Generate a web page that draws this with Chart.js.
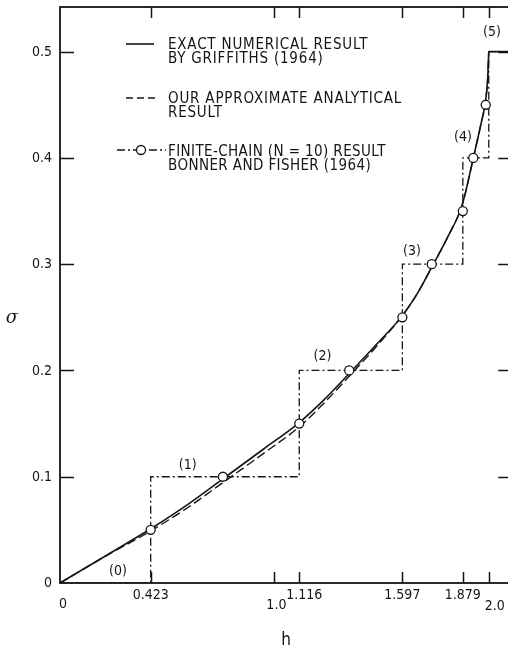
<!DOCTYPE html>
<html>
<head>
<meta charset="utf-8">
<script src="https://cdn.jsdelivr.net/npm/chart.js@4.4.1/dist/chart.umd.min.js"></script>
<style>
  html, body { margin: 0; padding: 0; background: #fff; overflow: hidden; }
  #wrap { width: 516px; height: 651px; }
</style>
</head>
<body>
<div id="wrap"><canvas id="c" width="516" height="651"></canvas></div>
<script>
// ---------------- data ----------------
// exact numerical result (Griffiths 1964)
const exactH = [0, 0.2, 0.423, 0.6, 0.76, 0.95, 1.116, 1.23, 1.349, 1.48, 1.597, 1.67, 1.734, 1.81, 1.876, 1.93, 1.965, 1.985, 1.995, 2.0];
const exactS = [0, 0.024, 0.051, 0.0745, 0.098, 0.1261, 0.151, 0.1721, 0.1971, 0.2253, 0.2516, 0.2735, 0.2972, 0.3261, 0.3558, 0.4017, 0.4332, 0.4532, 0.475, 0.5];
// saturated part of the exact result (h > 2)
const satH = [2.0, 2.1];
const satS = [0.5, 0.5];
// our approximate analytical result
const approxH = [0, 0.2, 0.423, 0.6, 0.76, 0.95, 1.116, 1.23, 1.349, 1.48, 1.597, 1.67, 1.734, 1.81, 1.876, 1.93, 1.965, 1.985, 1.995, 2.0];
const approxS = [0, 0.0238, 0.049, 0.0715, 0.0945, 0.122, 0.147, 0.169, 0.1945, 0.2235, 0.2516, 0.2735, 0.2972, 0.3261, 0.3558, 0.4017, 0.4332, 0.4532, 0.475, 0.5];
// finite chain (N=10) staircase: step starts
const stepH = [0, 0.423, 1.116, 1.597, 1.879, 2.0, 2.1];
const stepS = [0, 0.1, 0.2, 0.3, 0.4, 0.5, 0.5];
// finite chain circles
const chainH = [0.423, 0.760, 1.116, 1.349, 1.597, 1.734, 1.879, 1.928, 1.986];
const chainS = [0.05, 0.1, 0.15, 0.2, 0.25, 0.3, 0.35, 0.4, 0.45];
// ticks
const xTickValues = [0, 0.423, 1.0, 1.116, 1.597, 1.879, 2.0];
const xTickLabels = ['0', '0.423', '1.0', '1.116', '1.597', '1.879', '2.0'];
const yTickValues = [0, 0.1, 0.2, 0.3, 0.4, 0.5];
const yTickLabels = ['0', '0.1', '0.2', '0.3', '0.4', '0.5'];
// step annotations
const stepLabels = ['(0)', '(1)', '(2)', '(3)', '(4)', '(5)'];
const stepLabelH = [0.27, 0.596, 1.224, 1.642, 1.88, 2.015];
const stepLabelS = [0.011, 0.111, 0.213, 0.312, 0.419, 0.518];
// legend texts
const legendTexts = [
  ['EXACT NUMERICAL RESULT', 'BY GRIFFITHS (1964)'],
  ['OUR APPROXIMATE ANALYTICAL', 'RESULT'],
  ['FINITE-CHAIN (N = 10) RESULT', 'BONNER AND FISHER (1964)']
];
const xTitle = 'h';
const yTitle = 'σ';

// ---------------- style ----------------
const INK = '#151515';
const FONT = "'DejaVu Sans Condensed', 'Liberation Sans Narrow', 'DejaVu Sans', sans-serif";
const DASHDOT = [8, 3, 2, 3];
const DASHED = [9, 4];
const lowered = { '0': [3, 9], '1.0': [2, 10], '2.0': [6, 11] };
const shifted = { '1.116': [5, 0] };
const legendSpacing = ['0.8px', '0.8px', '0.4px'];

const pts = (xs, ys) => xs.map((v, i) => ({ x: v, y: ys[i] }));

const decor = {
  id: 'decor',
  afterDatasetsDraw(chart) {
    const { ctx, chartArea: a, scales: { x, y } } = chart;
    ctx.save();
    ctx.strokeStyle = INK;
    ctx.fillStyle = INK;
    ctx.setLineDash([]);
    // frame
    ctx.lineWidth = 1.8;
    ctx.strokeRect(a.left, a.top, a.right - a.left, a.bottom - a.top);
    // inward tick marks
    ctx.lineWidth = 1.5;
    ctx.beginPath();
    yTickValues.forEach(v => {
      if (v === 0) return;
      const py = Math.round(y.getPixelForValue(v)) + 0.5;
      ctx.moveTo(a.left, py); ctx.lineTo(a.left + 14, py);
      ctx.moveTo(a.right, py); ctx.lineTo(a.right - 12, py);
    });
    xTickValues.forEach(v => {
      if (v === 0) return;
      const px = Math.round(x.getPixelForValue(v)) + 0.5;
      ctx.moveTo(px, a.bottom); ctx.lineTo(px, a.bottom - 11);
      ctx.moveTo(px, a.top); ctx.lineTo(px, a.top + 11);
    });
    ctx.stroke();

    // tick labels
    ctx.font = '14px ' + FONT;
    ctx.textBaseline = 'middle';
    ctx.textAlign = 'right';
    yTickValues.forEach((v, i) => {
      ctx.fillText(yTickLabels[i], a.left - 8, y.getPixelForValue(v) + 0.5);
    });
    ctx.textAlign = 'center';
    xTickValues.forEach((v, i) => {
      const lab = xTickLabels[i];
      const off = lowered[lab] || shifted[lab] || [0, 0];
      ctx.fillText(lab, x.getPixelForValue(v) + off[0], a.bottom + 12 + off[1]);
    });

    // axis titles
    ctx.font = '17px ' + FONT;
    ctx.fillText(xTitle, (a.left + a.right) / 2 + 1, a.bottom + 58);
    ctx.font = 'italic 18px DejaVu Serif, serif';
    ctx.fillText(yTitle, 12, (a.top + a.bottom) / 2 + 23);

    // step annotations
    ctx.font = '14px ' + FONT;
    stepLabels.forEach((t, i) => {
      ctx.fillText(t, x.getPixelForValue(stepLabelH[i]), y.getPixelForValue(stepLabelS[i]));
    });

    // legend
    ctx.textAlign = 'left';
    ctx.font = '15px ' + FONT;
    const rows = [44, 98, 151];
    const tx = 168;
    legendTexts.forEach((lines, i) => {
      try { ctx.letterSpacing = legendSpacing[i]; } catch (e) {}
      ctx.fillText(lines[0], tx, rows[i] + 1);
      ctx.fillText(lines[1], tx, rows[i] + 15);
    });
    try { ctx.letterSpacing = '0px'; } catch (e) {}
    ctx.lineWidth = 1.6;
    ctx.beginPath(); ctx.moveTo(126, rows[0]); ctx.lineTo(154, rows[0]); ctx.stroke();
    ctx.setLineDash([7, 4]);
    ctx.lineWidth = 1.4;
    ctx.beginPath(); ctx.moveTo(126, rows[1]); ctx.lineTo(155, rows[1]); ctx.stroke();
    ctx.setLineDash(DASHDOT);
    ctx.lineWidth = 1.3;
    ctx.beginPath(); ctx.moveTo(117, rows[2] - 1); ctx.lineTo(166, rows[2] - 1); ctx.stroke();
    ctx.setLineDash([]);
    ctx.beginPath(); ctx.arc(141, rows[2] - 1, 4.5, 0, Math.PI * 2);
    ctx.fillStyle = '#fff'; ctx.fill();
    ctx.lineWidth = 1.3; ctx.stroke();
    ctx.restore();
  }
};

new Chart(document.getElementById('c'), {
  type: 'scatter',
  data: {
    datasets: [
      {
        label: 'Exact numerical result by Griffiths (1964)',
        data: pts(exactH, exactS),
        showLine: true, borderColor: INK, borderWidth: 1.6,
        pointRadius: 0, cubicInterpolationMode: 'monotone', fill: false, order: 3
      },
      {
        label: 'Exact result (saturated)',
        data: pts(satH, satS),
        showLine: true, borderColor: INK, borderWidth: 1.6,
        pointRadius: 0, fill: false, order: 3
      },
      {
        label: 'Our approximate analytical result',
        data: pts(approxH, approxS),
        showLine: true, borderColor: INK, borderWidth: 1.4, borderDash: DASHED,
        pointRadius: 0, cubicInterpolationMode: 'monotone', fill: false, order: 2
      },
      {
        label: 'Finite-chain staircase',
        data: pts(stepH, stepS),
        showLine: true, stepped: 'before', borderColor: INK, borderWidth: 1.3, borderDash: DASHDOT,
        pointRadius: 0, fill: false, order: 4
      },
      {
        label: 'Finite-chain (N=10) result, Bonner and Fisher (1964)',
        data: pts(chainH, chainS),
        showLine: false, pointRadius: 4.5, pointBackgroundColor: '#fff',
        pointBorderColor: INK, pointBorderWidth: 1.3, order: 1
      }
    ]
  },
  options: {
    responsive: false,
    devicePixelRatio: 1,
    animation: false,
    layout: { padding: { left: 60, top: 7, right: 4.5, bottom: 68 } },
    plugins: { legend: { display: false }, tooltip: { enabled: false } },
    scales: {
      x: { type: 'linear', min: 0, max: 2.1, display: false },
      y: { type: 'linear', min: 0, max: 0.542, display: false }
    }
  },
  plugins: [decor]
});
</script>
</body>
</html>
